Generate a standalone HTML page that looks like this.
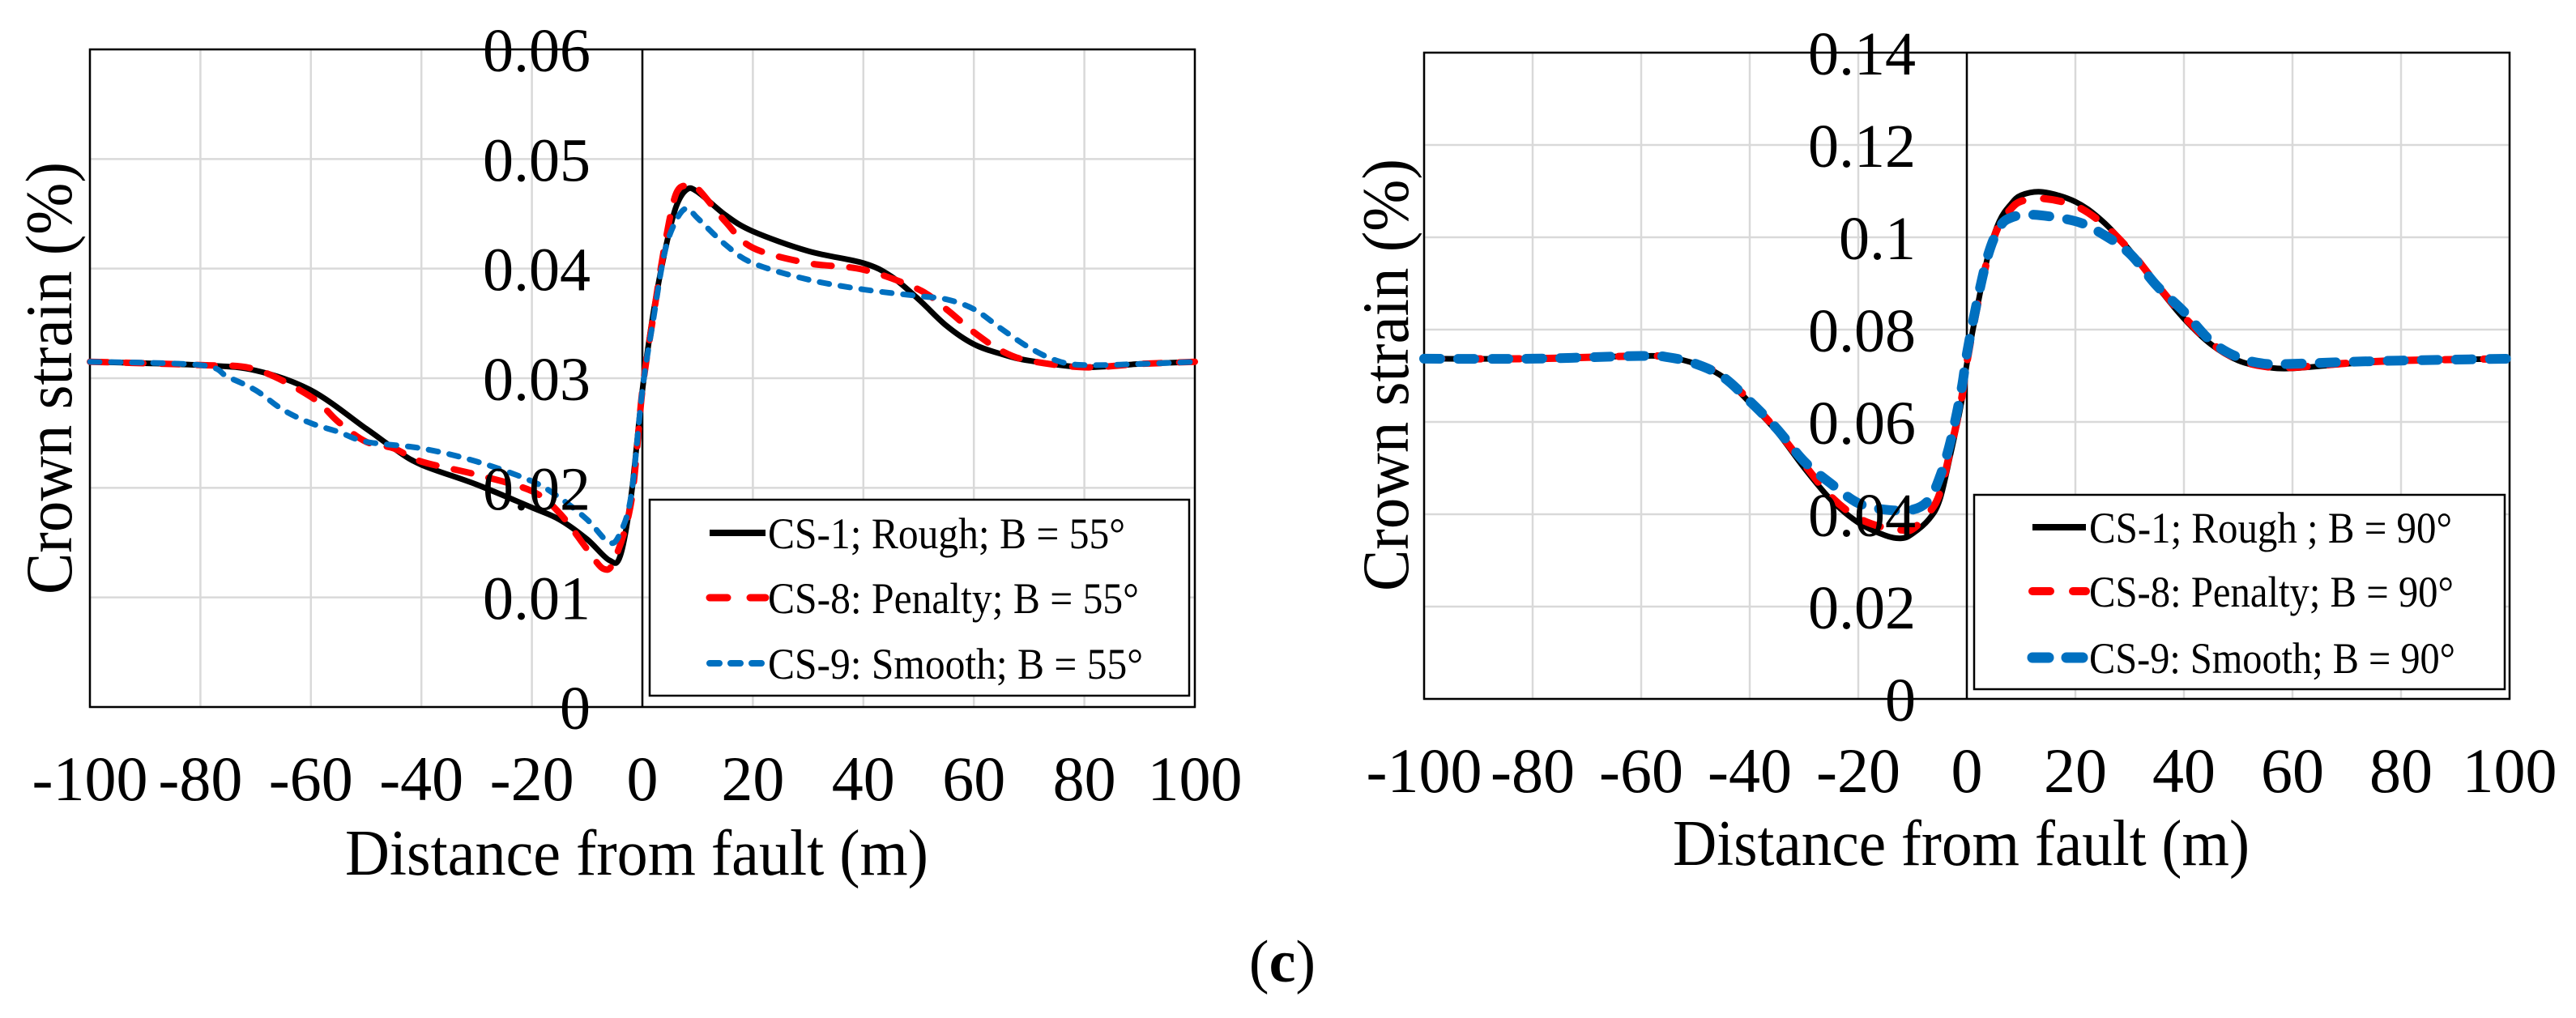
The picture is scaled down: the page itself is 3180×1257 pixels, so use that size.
<!DOCTYPE html>
<html><head><meta charset="utf-8">
<style>
html,body{margin:0;padding:0;background:#fff;}
svg{display:block;}
text{font-family:"Liberation Serif","Times New Roman",serif;fill:#000;}
</style></head>
<body>
<svg id="fig" width="3180" height="1257" viewBox="0 0 3180 1257" xmlns="http://www.w3.org/2000/svg">
<text x="1583" y="1212" font-size="74" text-anchor="middle">(<tspan font-weight="bold">c</tspan>)</text>
</svg>
<script>
// ---- Left chart data (B = 55°) ----
const xTicks = [-100,-80,-60,-40,-20,0,20,40,60,80,100];
const yTicksL = [0,0.01,0.02,0.03,0.04,0.05,0.06];
const yTickLabelsL = ["0","0.01","0.02","0.03","0.04","0.05","0.06"];
const L_cs1_x = [-100,-80,-70,-60,-50,-45,-40,-30,-20,-15,-10,-6,-4,-2,0,2,4,6,8,10,15,20,30,40,45,50,55,60,65,70,80,90,100];
const L_cs1_y = [0.0315,0.0312,0.0307,0.0289,0.0254,0.0236,0.0221,0.0203,0.0182,0.0171,0.0153,0.0134,0.0138,0.0194,0.0289,0.036,0.0414,0.0455,0.0472,0.047,0.0449,0.0434,0.0416,0.0405,0.0393,0.0372,0.0348,0.0331,0.0322,0.0316,0.031,0.0313,0.0315];
const L_cs8_x = [-100,-80,-70,-60,-55,-50,-45,-40,-30,-20,-15,-10,-7,-5,-2,0,2,4,6,8,10,15,20,30,40,50,55,60,65,70,80,90,100];
const L_cs8_y = [0.0315,0.0312,0.0308,0.0283,0.026,0.0242,0.0236,0.0224,0.0212,0.0197,0.0177,0.0144,0.0126,0.0135,0.0188,0.0289,0.0357,0.042,0.0467,0.0476,0.0473,0.0443,0.0419,0.0405,0.0399,0.0381,0.0363,0.0342,0.0325,0.0316,0.031,0.0313,0.0315];
const L_cs9_x = [-100,-80,-75,-70,-65,-60,-55,-50,-40,-30,-20,-15,-10,-6,-4,-2,0,2,4,6,8,10,15,20,30,40,50,55,60,65,70,75,80,90,100];
const L_cs9_y = [0.0315,0.0312,0.0301,0.0289,0.0271,0.0259,0.0251,0.0242,0.0236,0.0224,0.0206,0.0191,0.0171,0.015,0.0159,0.0194,0.0289,0.0354,0.0414,0.0443,0.0455,0.0446,0.0422,0.0405,0.039,0.0381,0.0375,0.0372,0.0363,0.0345,0.0328,0.0316,0.0312,0.0313,0.0315];
const L_legend = ["CS-1; Rough; B = 55°","CS-8: Penalty; B = 55°","CS-9: Smooth; B = 55°"];

// ---- Right chart data (B = 90°) ----
const yTicksR = [0,0.02,0.04,0.06,0.08,0.1,0.12,0.14];
const yTickLabelsR = ["0","0.02","0.04","0.06","0.08","0.1","0.12","0.14"];
const R_cs1_x = [-100,-80,-60,-55,-50,-45,-40,-35,-30,-25,-20,-15,-12,-10,-7,-5,-3,-1,0,2,4,6,8,10,14,20,25,30,35,40,45,50,55,60,70,80,100];
const R_cs1_y = [0.0737,0.0737,0.0743,0.074,0.0726,0.0698,0.0642,0.0579,0.0501,0.0431,0.0382,0.0354,0.0348,0.0358,0.0389,0.0431,0.053,0.0642,0.0726,0.0853,0.0965,0.1035,0.107,0.1091,0.1098,0.1077,0.1035,0.0972,0.0895,0.0824,0.0768,0.0733,0.0719,0.0716,0.0726,0.0733,0.0737];
const R_cs8_x = [-100,-80,-60,-55,-50,-45,-40,-35,-30,-25,-20,-15,-12,-10,-7,-5,-3,-1,0,2,4,6,8,10,14,20,25,30,35,40,45,50,55,60,70,80,100];
const R_cs8_y = [0.0737,0.0737,0.0743,0.074,0.0728,0.07,0.0646,0.0582,0.0508,0.0438,0.0392,0.037,0.0366,0.0368,0.0403,0.0445,0.054,0.0648,0.0728,0.0855,0.0962,0.1028,0.106,0.1078,0.1084,0.1068,0.103,0.0972,0.0898,0.0828,0.0771,0.0735,0.072,0.0718,0.0727,0.0733,0.0737];
const R_cs9_x = [-100,-80,-60,-55,-50,-45,-40,-35,-30,-25,-20,-15,-10,-7,-5,-3,-1,0,2,4,6,8,12,20,25,30,35,40,45,50,55,60,70,80,100];
const R_cs9_y = [0.0737,0.0737,0.0743,0.074,0.0726,0.0698,0.0645,0.0585,0.0515,0.0466,0.0424,0.041,0.041,0.0431,0.048,0.0558,0.067,0.0747,0.0867,0.0965,0.1021,0.1042,0.1049,0.1035,0.1007,0.0965,0.0895,0.0839,0.0775,0.074,0.0726,0.0726,0.073,0.0733,0.0737];
const R_legend = ["CS-1; Rough ; B = 90°","CS-8: Penalty; B = 90°","CS-9: Smooth; B = 90°"];

const NS = "http://www.w3.org/2000/svg";
const svg = document.getElementById('fig');
function mk(tag, attrs, parent){
  const e = document.createElementNS(NS, tag);
  for (const k in attrs) e.setAttribute(k, attrs[k]);
  (parent||svg).appendChild(e);
  return e;
}
function smoothPath(pts){
  let d = "M" + pts[0][0].toFixed(1) + "," + pts[0][1].toFixed(1);
  for (let i=0;i<pts.length-1;i++){
    const p0 = pts[i-1]||pts[i], p1 = pts[i], p2 = pts[i+1], p3 = pts[i+2]||pts[i+1];
    const t = 1/6;
    const c1 = [p1[0]+(p2[0]-p0[0])*t, p1[1]+(p2[1]-p0[1])*t];
    const c2 = [p2[0]-(p3[0]-p1[0])*t, p2[1]-(p3[1]-p1[1])*t];
    d += " C"+c1[0].toFixed(1)+","+c1[1].toFixed(1)+" "+c2[0].toFixed(1)+","+c2[1].toFixed(1)+" "+p2[0].toFixed(1)+","+p2[1].toFixed(1);
  }
  return d;
}

function drawChart(cfg){
  const g = mk('g', {});
  
  
  const X = v => cfg.left + (v - (-100)) / 200 * (cfg.right - cfg.left);
  const Y = v => cfg.bottom - v / cfg.ymax * (cfg.bottom - cfg.top);
  // grid
  xTicks.forEach(t => {
    const l = mk('line', {x1:X(t), x2:X(t), y1:cfg.top, y2:cfg.bottom, stroke:'#d9d9d9','stroke-width':2.5}, g);
    
    
  });
  cfg.yTicks.forEach(t => {
    const l = mk('line', {x1:cfg.left, x2:cfg.right, y1:Y(t), y2:Y(t), stroke:'#d9d9d9','stroke-width':2.5}, g);
    
    
  });
  // plot border
  const b = mk('rect', {x:cfg.left, y:cfg.top, width:cfg.right-cfg.left, height:cfg.bottom-cfg.top, fill:'none', stroke:'#000','stroke-width':2.5}, g);
  
  
  // y axis at x=0
  const ya = mk('line', {x1:X(0), x2:X(0), y1:cfg.top, y2:cfg.bottom, stroke:'#000','stroke-width':2.5}, g);
  
  
  // series
  cfg.series.forEach(s => {
    const pts = s.xs.map((x,i) => [X(x), Y(s.ys[i])]);
    const p = mk('path', {d:smoothPath(pts), fill:'none', stroke:s.color, 'stroke-width':s.w, 'stroke-dasharray':s.dash||'none', 'stroke-linecap':s.dash?'round':'butt','stroke-linejoin':'round'}, g);
    
    
  });
  // y tick labels
  cfg.yTicks.forEach((t,i) => {
    const lbl = cfg.yLabels[i];
    const tx = mk('text', {x:cfg.ylabX, y:Y(t)+27, 'font-size':76, 'text-anchor':'end'}, g);
    tx.textContent = lbl;
    
    
  });
  // legend
  const lg = mk('g', {}, g);
  
  
  const lr = mk('rect', {x:cfg.lg.x, y:cfg.lg.y, width:cfg.lg.w, height:cfg.lg.h, fill:'#fff', stroke:'#000','stroke-width':2.5}, lg);
  
  
  cfg.series.forEach((s,i) => {
    const ey = cfg.lg.rows[i];
    const ln = mk('line', {x1:cfg.lg.sx1, x2:cfg.lg.sx2, y1:ey, y2:ey, stroke:s.color,'stroke-width':s.w+1,'stroke-dasharray':s.ldash||'none','stroke-linecap':s.dash?'round':'butt'}, lg);
    
    
    const tx = mk('text', {x:cfg.lg.tx, y:ey+19, 'font-size':54, textLength:cfg.lg.tl[i], lengthAdjust:'spacingAndGlyphs'}, lg);
    tx.textContent = cfg.legend[i];
    
    
  });
  // x tick labels
  xTicks.forEach(t => {
    const tx = mk('text', {x:X(t), y:cfg.xlabY, 'font-size':78, 'text-anchor':'middle'}, g);
    tx.textContent = String(t);
    
    
  });
  const xt = mk('text', {x:cfg.xtX, y:cfg.xtY, 'font-size':80, 'text-anchor':'middle', textLength:cfg.xtL, lengthAdjust:'spacingAndGlyphs'}, g);
  xt.textContent = 'Distance from fault (m)';
  
  
  const yt = mk('text', {x:0, y:0, 'font-size':82, 'text-anchor':'middle', textLength:534, lengthAdjust:'spacingAndGlyphs', transform:'translate('+cfg.ytX+','+cfg.ytY+') rotate(-90)'}, g);
  yt.textContent = 'Crown strain (%)';
  
  
}

drawChart({
  name:'chart-b55', left:111, right:1475, top:61, bottom:873, ymax:0.06,
  yTicks:yTicksL, yLabels:yTickLabelsL, ylabX:729, xlabY:988,
  xtX:786, xtY:1080, xtL:720, ytX:88, ytY:467,
  legend:L_legend,
  lg:{x:802,y:617,w:666,h:242,rows:[658,738,819],sx1:876,sx2:945,tx:948,tl:[441,458,463]},
  series:[
    {name:'series-cs1-rough', xs:L_cs1_x, ys:L_cs1_y, color:'#000', w:7},
    {name:'series-cs8-penalty', xs:L_cs8_x, ys:L_cs8_y, color:'#ff0000', w:8, dash:'22 22', ldash:'22 28'},
    {name:'series-cs9-smooth', xs:L_cs9_x, ys:L_cs9_y, color:'#0070c0', w:7, dash:'12 14', ldash:'12 14'}
  ]
});
drawChart({
  name:'chart-b90', left:1758, right:3098, top:65, bottom:863, ymax:0.14,
  yTicks:yTicksR, yLabels:yTickLabelsR, ylabX:2365, xlabY:978,
  xtX:2421, xtY:1068, xtL:712, ytX:1738, ytY:463,
  legend:R_legend,
  lg:{x:2437,y:611,w:655,h:240,rows:[651,730,812],sx1:2509,sx2:2575,tx:2579,tl:[448,450,452]},
  series:[
    {name:'series-cs1-rough', xs:R_cs1_x, ys:R_cs1_y, color:'#000', w:7},
    {name:'series-cs8-penalty', xs:R_cs8_x, ys:R_cs8_y, color:'#ff0000', w:9, dash:'22 26', ldash:'22 28'},
    {name:'series-cs9-smooth', xs:R_cs9_x, ys:R_cs9_y, color:'#0070c0', w:12, dash:'20 22', ldash:'20 22'}
  ]
});
</script>
</body></html>
